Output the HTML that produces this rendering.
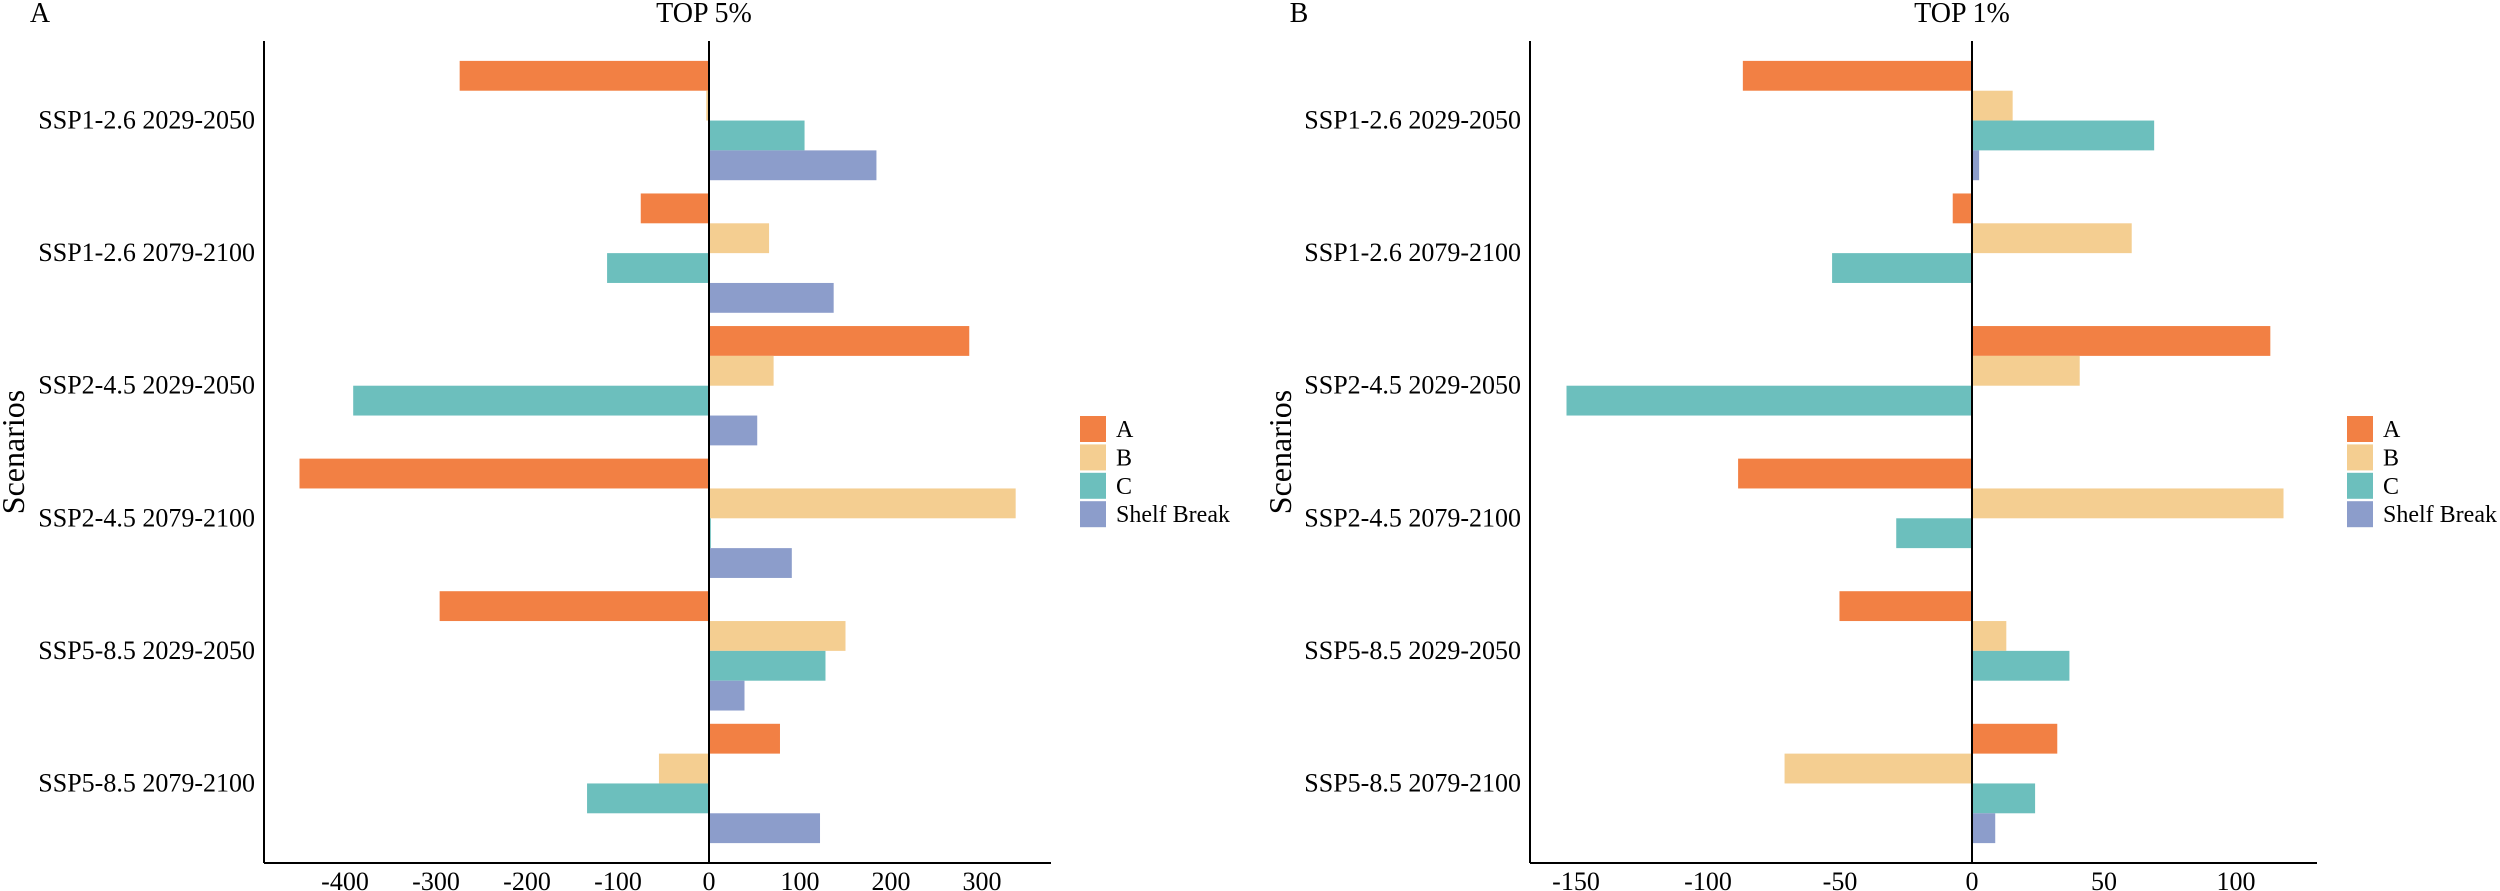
<!DOCTYPE html>
<html><head><meta charset="utf-8"><style>
html,body{margin:0;padding:0;background:#fff;}
svg{display:block;font-family:"Liberation Serif",serif;}
</style></head><body>
<svg id="chart" width="2500" height="891" viewBox="0 0 2500 891" xmlns="http://www.w3.org/2000/svg"></svg>
<script>
const categories = ["SSP1-2.6 2029-2050","SSP1-2.6 2079-2100","SSP2-4.5 2029-2050","SSP2-4.5 2079-2100","SSP5-8.5 2029-2050","SSP5-8.5 2079-2100"];
const seriesNames = ["A","B","C","Shelf Break"];
const top5A = [-274,-75,286,-450,-296,78];
const top5B = [-3,66,71,337,150,-55];
const top5C = [105,-112,-391,2,128,-134];
const top5SB = [184,137,53,91,39,122];
const top1A = [-86.8,-7.3,113,-88.6,-50.2,32.3];
const top1B = [15.4,60.5,40.8,118,13,-71];
const top1C = [69,-53,-153.6,-28.7,36.9,23.9];
const top1SB = [2.7,0,0,0,0,8.8];
const ticks5 = [-400,-300,-200,-100,0,100,200,300];
const ticks1 = [-150,-100,-50,0,50,100];
const colors = ["#F28044","#F4CE91","#6CBFBD","#8C9DCB"];
const NS = "http://www.w3.org/2000/svg";
const svg = document.getElementById("chart");
function mk(tag, attrs, parent){const e=document.createElementNS(NS,tag);for(const k in attrs)e.setAttribute(k,attrs[k]);(parent||svg).appendChild(e);return e;}

function panel(cfg){
  const g = mk("g",{});
  
  
  const top=41, bottom=863;
  const xs = v => cfg.zeroX + v*cfg.pxPerUnit;
  const band = (bottom-top)/6.2;
  const yc = i => top + (0.6+i)*band;
  const barH = band*0.9/4;
  cfg.series.forEach((vals,s)=>{
    vals.forEach((v,i)=>{
      const y = yc(i) - band*0.45 + s*barH;
      const x0 = Math.min(xs(0),xs(v)), w = Math.abs(xs(v)-xs(0));
      const r = mk("rect",{x:x0,y:y,width:w,height:barH,fill:colors[s]},g);
      
      
    });
  });
  const ya = mk("line",{x1:cfg.axisX,y1:top,x2:cfg.axisX,y2:bottom,stroke:"#000","stroke-width":2},g);
  
  
  const xa = mk("line",{x1:cfg.axisX,y1:bottom,x2:cfg.rightX,y2:bottom,stroke:"#000","stroke-width":2},g);
  
  
  const zl = mk("line",{x1:xs(0),y1:top,x2:xs(0),y2:bottom,stroke:"#000","stroke-width":2},g);
  
  
  cfg.ticks.forEach(t=>{
    const tx = mk("text",{x:xs(t),y:890,"font-size":26,"text-anchor":"middle",fill:"#000"},g);
    tx.textContent = String(t);
    
    
  });
  categories.forEach((c,i)=>{
    const tx = mk("text",{x:cfg.axisX-9,y:yc(i)+8,"font-size":26,"text-anchor":"end",fill:"#000"},g);
    tx.textContent = c;
    
    
  });
  const ttl = mk("text",{x:cfg.titleX,y:22,"font-size":28,"text-anchor":"middle",fill:"#000"},g);
  ttl.textContent = cfg.title;
  
  
  const tag = mk("text",{x:cfg.tagX,y:22,"font-size":28,"text-anchor":"middle",fill:"#000"},g);
  tag.textContent = cfg.tag;
  
  
  const yt = mk("text",{x:0,y:0,"font-size":32,"text-anchor":"middle",fill:"#000",transform:`translate(${cfg.yTitleX},452) rotate(-90)`},g);
  yt.textContent = "Scenarios";
  
  
  const lg = mk("g",{},g);
  
  
  seriesNames.forEach((n,s)=>{
    const y = 416 + s*28.4;
    const r = mk("rect",{x:cfg.legX,y:y,width:26,height:26,fill:colors[s]},lg);
    
    
    const t = mk("text",{x:cfg.legX+36,y:y+21,"font-size":24,fill:"#000"},lg);
    t.textContent = n;
    
    
  });
}
panel({name:"panel-a-top5",series:[top5A,top5B,top5C,top5SB],ticks:ticks5,zeroX:709,pxPerUnit:0.91,axisX:264,rightX:1051,title:"TOP 5%",titleX:704,tag:"A",tagX:40,yTitleX:24,legX:1080});
panel({name:"panel-b-top1",series:[top1A,top1B,top1C,top1SB],ticks:ticks1,zeroX:1972,pxPerUnit:2.64,axisX:1530,rightX:2317,title:"TOP 1%",titleX:1962,tag:"B",tagX:1299,yTitleX:1291,legX:2347});
</script>
</body></html>
